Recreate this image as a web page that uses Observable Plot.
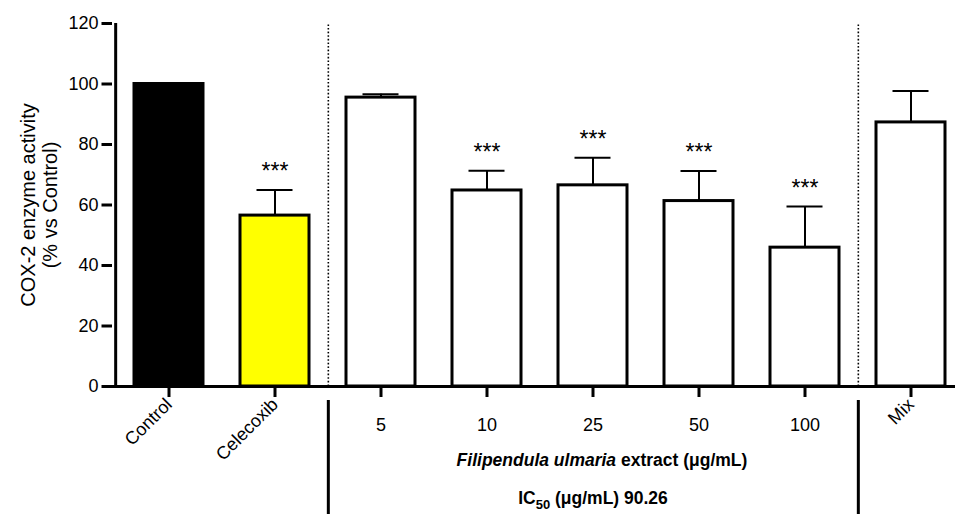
<!DOCTYPE html>
<html><head><meta charset="utf-8">
<script src="https://cdn.jsdelivr.net/npm/d3@7"></script>
<script src="https://cdn.jsdelivr.net/npm/@observablehq/plot@0.6"></script>
<style>body{margin:0;background:#fff}</style>
</head><body><div id="chart"></div>
<script>
const categories = ["Control", "Celecoxib", "5", "10", "25", "50", "100", "Mix"];
const means = [100, 56.5, 95.5, 64.8, 66.5, 61.3, 45.9, 87.3];
const errors = [0, 8.5, 1.1, 6.5, 9.1, 9.9, 13.6, 10.4];
const stars = ["", "***", "", "***", "***", "***", "***", ""];
const fills = ["#000000", "#ffff00", "#ffffff", "#ffffff", "#ffffff", "#ffffff", "#ffffff", "#ffffff"];
const yTicks = [0, 20, 40, 60, 80, 100, 120];
const rotatedLabels = ["Control", "Celecoxib", "Mix"];
const doseLabels = ["5", "10", "25", "50", "100"];
const separatorsAfter = ["Celecoxib", "100"];
const groupCenter = "25";
const groupLabel = "Filipendula ulmaria extract (μg/mL)";
const icLabel = "IC50 (μg/mL) 90.26";
const yLabel = "COX-2 enzyme activity\n(% vs Control)";

const data = categories.map((c, i) => ({cat: c, mean: means[i], err: errors[i], star: stars[i], fill: fills[i]}));
const withErr = data.filter(d => d.err > 0);

const W = 955, H = 514;
const mL = 112, mT = 23, mB = 128;
const frameH = H - mT - mB;
const xRange = [112.3, 965.6];
const step = (xRange[1] - xRange[0]) / categories.length;

const chart = Plot.plot({
  width: W, height: H,
  marginLeft: mL, marginRight: 0, marginTop: mT, marginBottom: mB,
  style: {fontFamily: "'Liberation Sans', Arial, Helvetica, sans-serif", fontSize: "18px", background: "white", color: "black"},
  x: {domain: categories, range: xRange, paddingInner: 0.35, paddingOuter: 0.175, align: 0.5, axis: null},
  y: {domain: [0, 120], axis: null},
  color: {type: "identity"},
  marks: [
    Plot.ruleX(separatorsAfter, {x: d => d, dx: step / 2, y1: 0, y2: 120, stroke: "black", strokeWidth: 1.6, strokeDasharray: "1.6,2"}),
    Plot.ruleX(separatorsAfter, {x: d => d, dx: step / 2, insetTop: frameH + 14, insetBottom: -140, stroke: "black", strokeWidth: 3}),
    Plot.barY(data, {x: "cat", y: "mean", fill: "fill", stroke: "black", strokeWidth: 3}),
    Plot.ruleX(withErr, {x: "cat", y1: "mean", y2: d => d.mean + d.err, stroke: "black", strokeWidth: 2}),
    Plot.tickY(withErr, {x: "cat", y: d => d.mean + d.err, insetLeft: 16.5, insetRight: 16.5, stroke: "black", strokeWidth: 2}),
    Plot.text(withErr.filter(d => d.star), {x: "cat", y: d => d.mean + d.err, text: "star", dy: -18, fontSize: 23, lineAnchor: "middle", fill: "black"}),
    // x axis line and tick marks
    Plot.ruleY([0], {stroke: "black", strokeWidth: 3}),
    Plot.ruleX(categories, {x: d => d, insetTop: frameH, insetBottom: -11, stroke: "black", strokeWidth: 3}),
    // y axis line and tick marks
    Plot.ruleX([categories[0]], {x: d => d, dx: -step / 2, y1: 0, y2: 120, stroke: "black", strokeWidth: 3}),
    Plot.ruleY(yTicks, {y: d => d, insetLeft: -10.5, insetRight: W - mL, stroke: "black", strokeWidth: 3}),
    Plot.axisY({ticks: yTicks, tickSize: 0, fontSize: 18, tickPadding: 14, label: null, tickFormat: d => String(d)}),
    Plot.axisX({ticks: rotatedLabels, tickRotate: -45, tickSize: 0, fontSize: 18, tickPadding: 15, label: null}),
    Plot.axisX({ticks: doseLabels, tickSize: 0, fontSize: 18, tickPadding: 32, label: null}),
    Plot.text([yLabel], {frameAnchor: "left", dx: -74, rotate: -90, fontSize: 20, lineHeight: 1.1, lineAnchor: "middle", textAnchor: "middle", text: d => d, fill: "black"}),
    Plot.text([groupLabel], {x: () => groupCenter, frameAnchor: "bottom", dy: 74, dx: 9, lineAnchor: "middle", fontSize: 17.5, fontWeight: "bold", text: d => d, fill: "black"}),
    Plot.text([icLabel], {x: () => groupCenter, frameAnchor: "bottom", dy: 112, lineAnchor: "middle", fontSize: 17.5, fontWeight: "bold", text: d => d, fill: "black"})
  ]
});

chart.querySelectorAll("text").forEach(t => {
  if (t.textContent === groupLabel) {
    t.innerHTML = '<tspan font-style="italic">Filipendula ulmaria</tspan> extract (μg/mL)';
  } else if (t.textContent === icLabel) {
    t.innerHTML = 'IC<tspan font-size="13" dy="5">50</tspan><tspan dy="-5"> (μg/mL) 90.26</tspan>';
  }
});
document.getElementById("chart").appendChild(chart);
</script>
</body></html>
